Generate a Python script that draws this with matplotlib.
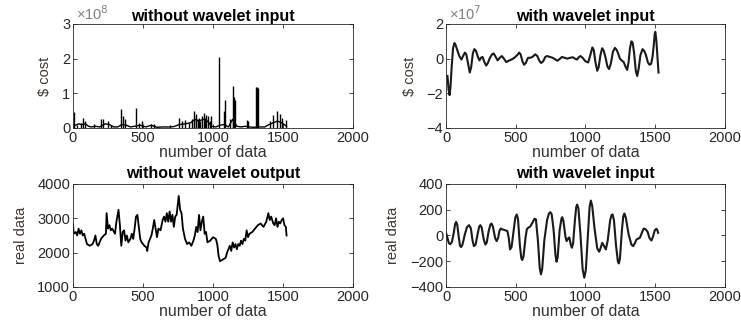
import matplotlib.pyplot as plt

plt.rcParams['font.family'] = ['Liberation Sans', 'DejaVu Sans']

# --- datos estimados de la figura ---
# arriba izquierda: picos (x1e8)
spike_x = [5, 30, 60, 75, 85, 150, 200, 215, 250, 270, 340, 355, 370, 450, 470, 490,
           555, 580, 690, 755, 780, 800, 830, 850, 865, 875, 880, 890, 900, 910, 920,
           935, 945, 950, 965, 975, 985, 1040, 1075, 1085, 1120, 1140, 1145, 1150, 1160,
           1240, 1250, 1310, 1315, 1320, 1410, 1425, 1460, 1475, 1490, 1520]
spike_h = [0.47, 0.1, 0.15, 0.3, 0.2, 0.12, 0.27, 0.25, 0.2, 0.1, 0.55, 0.35, 0.25, 0.58,
           0.15, 0.2, 0.12, 0.12, 0.1, 0.3, 0.2, 0.22, 0.15, 0.25, 0.5, 0.3, 0.4, 0.25,
           0.3, 0.2, 0.35, 0.42, 0.3, 0.38, 0.35, 0.2, 0.35, 2.05, 0.5, 0.8, 0.25, 0.3,
           1.22, 0.9, 0.8, 0.22, 0.2, 1.18, 1.17, 1.15, 0.2, 0.38, 0.48, 0.4, 0.3, 0.22]
base_x = [0, 20, 40, 60, 90, 110, 130, 160, 190, 230, 260, 290, 320, 350, 380, 410, 440,
          480, 520, 560, 600, 640, 680, 720, 760, 800, 840, 870, 900, 930, 960, 990,
          1020, 1050, 1080, 1110, 1140, 1170, 1200, 1230, 1260, 1290, 1330, 1370, 1400,
          1430, 1460, 1490, 1525]
base_y = [0.1, 0.08, 0.12, 0.1, 0.12, 0.05, 0.03, 0.05, 0.03, 0.12, 0.1, 0.03, 0.03, 0.1,
          0.08, 0.03, 0.05, 0.08, 0.03, 0.08, 0.02, 0.03, 0.03, 0.04, 0.1, 0.12, 0.15,
          0.25, 0.2, 0.25, 0.2, 0.05, 0.03, 0.08, 0.1, 0.03, 0.25, 0.05, 0.03, 0.05,
          0.03, 0.02, 0.03, 0.03, 0.1, 0.15, 0.2, 0.15, 0.05]

# arriba derecha (x1e7)
wi_x = [10, 18, 25, 32, 40, 50, 60, 68, 80, 95, 110, 122, 135, 145, 158, 170, 180, 192,
        203, 215, 228, 240, 250, 262, 275, 288, 300, 315, 330, 342, 356, 370, 385, 400,
        415, 432, 450, 470, 490, 510, 525, 535, 548, 560, 572, 588, 605, 620, 640, 655,
        668, 682, 697, 712, 725, 745, 765, 785, 800, 815, 832, 850, 870, 890, 910, 925,
        940, 955, 965, 980, 1000, 1020, 1035, 1050, 1060, 1072, 1085, 1095, 1108, 1120,
        1132, 1145, 1158, 1170, 1182, 1198, 1212, 1225, 1235, 1248, 1260, 1275, 1290,
        1300, 1310, 1320, 1330, 1340, 1350, 1362, 1372, 1382, 1395, 1410, 1422, 1435,
        1448, 1460, 1472, 1482, 1490, 1498, 1502, 1510, 1518, 1525]
wi_y = [-1.0, -1.8, -2.1, -1.6, -0.5, 0.6, 0.9, 0.8, 0.5, 0.15, -0.05, 0.15, 0.35, 0.25,
        -0.3, -0.8, -0.5, 0.3, 0.55, 0.45, 0.1, -0.1, 0.05, 0.1, -0.2, -0.4, -0.25, 0.05,
        0.25, 0.3, 0.1, -0.1, 0.05, 0.15, 0.0, -0.2, -0.12, -0.05, 0.05, 0.2, 0.35, 0.25,
        -0.15, -0.35, -0.25, 0.05, 0.05, 0.1, 0.25, 0.15, -0.1, -0.25, -0.15, 0.1, 0.15,
        0.1, 0.05, -0.05, -0.12, -0.02, 0.1, 0.05, 0.0, 0.05, 0.08, 0.0, -0.05, 0.1, 0.15,
        0.05, -0.15, -0.22, 0.2, 0.65, 0.5, -0.2, -0.7, -0.5, 0.2, 0.6, 0.45, 0.05, -0.45,
        -0.6, -0.3, 0.4, 0.62, 0.5, 0.3, 0.0, -0.1, -0.2, -0.5, -0.65, -0.2, 0.6, 1.0,
        0.9, 0.3, -0.7, -1.0, -0.6, 0.2, 0.55, 0.45, 0.2, -0.2, -0.35, -0.3, 0.1, 0.7,
        1.45, 1.55, 1.0, 0.0, -0.8]

# abajo izquierda
wo_x = [0, 5, 20, 30, 40, 50, 60, 70, 80, 90, 100, 120, 140, 150, 160, 170, 180, 200,
        220, 235, 240, 250, 260, 270, 280, 300, 310, 325, 335, 345, 355, 365, 375, 385,
        395, 410, 420, 430, 440, 450, 460, 470, 480, 490, 510, 525, 530, 540, 560, 570,
        580, 590, 600, 610, 625, 640, 650, 660, 670, 680, 690, 700, 710, 720, 730, 740,
        755, 765, 775, 785, 800, 815, 830, 845, 860, 870, 880, 890, 900, 910, 920, 930,
        940, 950, 960, 980, 1000, 1020, 1030, 1040, 1050, 1070, 1090, 1100, 1110, 1120,
        1130, 1140, 1150, 1160, 1170, 1180, 1190, 1200, 1210, 1220, 1230, 1240, 1250,
        1260, 1280, 1300, 1320, 1340, 1360, 1380, 1395, 1405, 1415, 1430, 1440, 1450,
        1460, 1470, 1480, 1490, 1500, 1510, 1520, 1525]
wo_y = [2850, 2550, 2600, 2500, 2700, 2550, 2650, 2500, 2550, 2400, 2250, 2200, 2250,
        2350, 2500, 2250, 2200, 2400, 2500, 2550, 3150, 2700, 2800, 2650, 2700, 2550,
        2900, 3250, 2800, 2200, 2600, 2650, 2350, 2500, 2300, 2400, 2550, 2400, 2700,
        3050, 3100, 2750, 2400, 2300, 2200, 2150, 2050, 2300, 2500, 2700, 2950, 2700,
        2450, 2700, 2650, 2950, 3050, 2900, 3150, 2900, 3200, 2900, 3100, 2750, 3050,
        3100, 3650, 3250, 3150, 2700, 2400, 2250, 2300, 2200, 2350, 2500, 2750, 2600,
        3100, 2650, 2900, 3050, 2550, 2600, 2300, 2350, 2450, 2400, 2250, 1900, 1750,
        1800, 1850, 2000, 2100, 2200, 2050, 2300, 2150, 2250, 2100, 2250, 2200, 2350,
        2250, 2400, 2350, 2650, 2450, 2550, 2600, 2700, 2800, 2850, 2750, 2900, 3150,
        2950, 3050, 2850, 2800, 3000, 2750, 2900, 2850, 2950, 3000, 2800, 2750, 2500]

# abajo derecha
wo2_x = [0, 10, 20, 30, 42, 55, 65, 72, 80, 92, 100, 108, 118, 135, 150, 165, 178, 190,
         200, 212, 228, 238, 246, 256, 270, 282, 292, 305, 318, 326, 336, 352, 363, 373,
         383, 392, 403, 423, 440, 450, 459, 470, 485, 497, 507, 516, 530, 540, 547, 556,
         570, 580, 590, 605, 620, 635, 645, 660, 672, 681, 690, 705, 725, 738, 748, 758,
         772, 785, 793, 801, 815, 828, 834, 842, 857, 865, 875, 885, 895, 903, 912, 925,
         934, 941, 950, 965, 980, 992, 1003, 1018, 1030, 1039, 1049, 1065, 1085, 1099,
         1110, 1121, 1133, 1147, 1160, 1178, 1188, 1195, 1205, 1220, 1233, 1240, 1248,
         1262, 1272, 1280, 1290, 1310, 1330, 1343, 1355, 1367, 1391, 1405, 1419, 1432,
         1446, 1460, 1474, 1485, 1498, 1510, 1517, 1522]
wo2_y = [20, -20, -60, -68, -50, 20, 90, 105, 85, -20, -80, -90, -70, 10, 65, 80, 55, -40,
         -83, -70, 20, 70, 80, 60, -30, -70, -55, 30, 85, 93, 70, -20, -44, -20, 35, 54,
         48, 41, 34, -20, -108, -90, 40, 140, 163, 130, -80, -175, -191, -160, -20, 50,
         60, 70, 100, 130, 125, -50, -250, -302, -260, -40, 120, 170, 181, 165, 40, -150,
         -204, -170, 40, 130, 142, 115, -10, -44, -25, -15, -70, -95, -60, 120, 220, 240,
         210, 0, -260, -328, -270, 0, 220, 271, 230, 60, -100, -126, -95, -57, -80, -108,
         -40, 120, 158, 163, 120, -80, -200, -217, -180, 40, 150, 170, 140, 10, -70, -83,
         -60, -31, -18, 20, 54, 48, 30, -20, -39, -10, 40, 52, 40, 21]

titles = ['without wavelet input', 'with wavelet input',
          'without wavelet output', 'with wavelet input']
ylabels = ['\\$ cost', '\\$ cost', 'real data', 'real data']
ylims = [(0, 3), (-4, 2), (1000, 4000), (-400, 400)]
yticks = [[0, 1, 2, 3], [-4, -2, 0, 2], [1000, 2000, 3000, 4000], [-400, -200, 0, 200, 400]]
exps = ['8', '7', None, None]

fig = plt.figure(figsize=(7.41, 3.22), dpi=100)
pos = [[0.0985, 0.6025, 0.378, 0.323], [0.602, 0.6025, 0.376, 0.323],
       [0.0985, 0.1087, 0.378, 0.32], [0.602, 0.1087, 0.376, 0.32]]
axes = [fig.add_axes(p) for p in pos]

axes[0].vlines(spike_x, 0, spike_h, color='black', lw=1.0)
axes[0].plot(base_x, base_y, color='black', lw=1.0)
axes[1].plot(wi_x, wi_y, color='#1a1a1a', lw=1.5)
axes[2].plot(wo_x, wo_y, color='black', lw=1.3)
axes[3].plot(wo2_x, wo2_y, color='#1a1a1a', lw=1.5)

gris = '#262626'
for i, ax in enumerate(axes):
    ax.set_xlim(0, 2000)
    ax.set_ylim(*ylims[i])
    ax.set_xticks([0, 500, 1000, 1500, 2000])
    ax.set_yticks(yticks[i])
    ax.tick_params(direction='in', top=True, right=True, length=3, width=0.6,
                   labelsize=10.5, colors=gris, pad=2)
    for s in ax.spines.values():
        s.set_color(gris)
        s.set_linewidth(0.6)
    ax.set_xlabel('number of data', fontsize=11.5, color='#333333', labelpad=0)
    ax.set_ylabel(ylabels[i], fontsize=10.5, color='#403530', labelpad=7)
    ax.set_title(titles[i], fontsize=11.5, fontweight='bold', pad=2 if i < 2 else 4)
    if exps[i]:
        ax.text(0.01, 1.01, '\u00d710$^{' + exps[i] + '}$', transform=ax.transAxes,
                fontsize=10.5, color='#808080', va='bottom', ha='left')

fig.savefig('out.png', dpi=100)
